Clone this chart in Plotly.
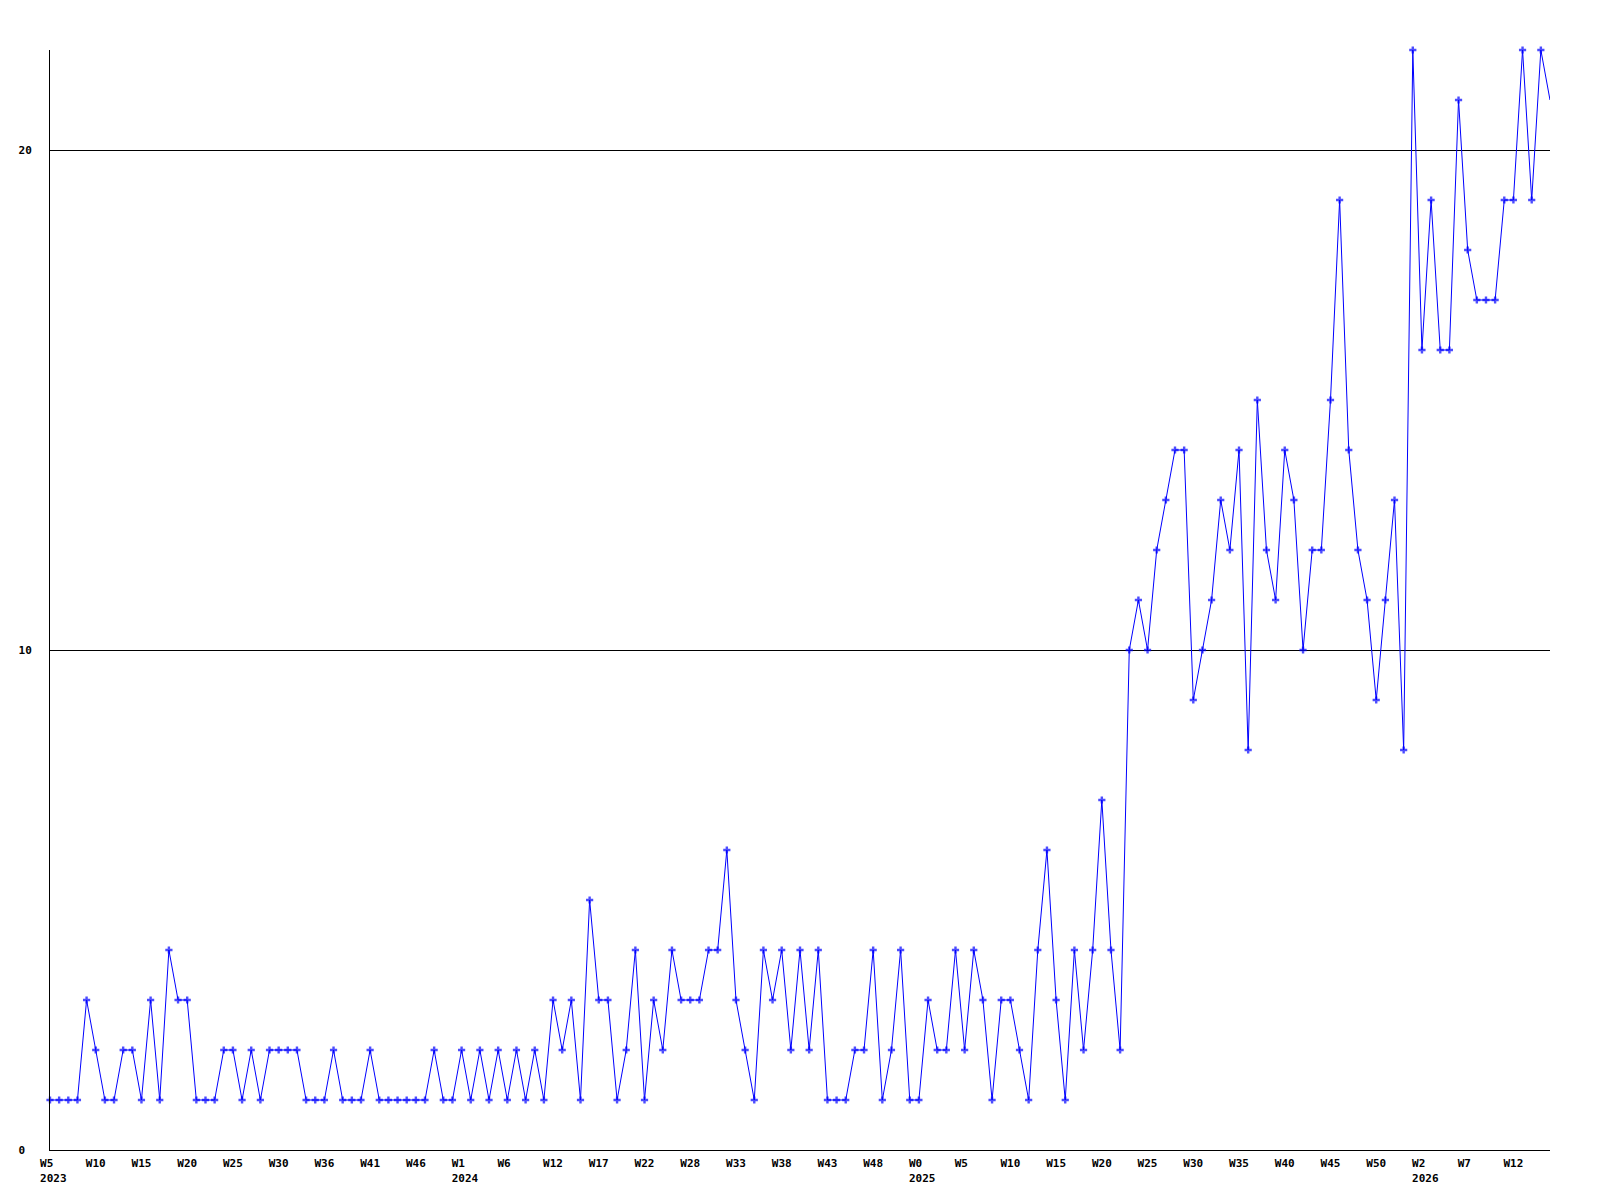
#!/usr/bin/env python
# coding: utf-8

# Contagem semanal - gráfico de linha com marcadores

import plotly.graph_objects as go

# Valores semanais (um ponto por semana, de W5/2023 até W16/2026)
contagens = [
    1, 1, 1, 1, 3, 2, 1, 1, 2, 2,
    1, 3, 1, 4, 3, 3, 1, 1, 1, 2,
    2, 1, 2, 1, 2, 2, 2, 2, 1, 1,
    1, 2, 1, 1, 1, 2, 1, 1, 1, 1,
    1, 1, 2, 1, 1, 2, 1, 2, 1, 2,
    1, 2, 1, 2, 1, 3, 2, 3, 1, 5,
    3, 3, 1, 2, 4, 1, 3, 2, 4, 3,
    3, 3, 4, 4, 6, 3, 2, 1, 4, 3,
    4, 2, 4, 2, 4, 1, 1, 1, 2, 2,
    4, 1, 2, 4, 1, 1, 3, 2, 2, 4,
    2, 4, 3, 1, 3, 3, 2, 1, 4, 6,
    3, 1, 4, 2, 4, 7, 4, 2, 10, 11,
    10, 12, 13, 14, 14, 9, 10, 11, 13, 12,
    14, 8, 15, 12, 11, 14, 13, 10, 12, 12,
    15, 19, 14, 12, 11, 9, 11, 13, 8, 22,
    16, 19, 16, 16, 21, 18, 17, 17, 17, 19,
    19, 22, 19, 22, 21,
]

# Rótulos do eixo x (um a cada 5 pontos)
semanas_rotulo = [
    "W5", "W10", "W15", "W20", "W25", "W30", "W36", "W41", "W46",
    "W1", "W6", "W12", "W17", "W22", "W28", "W33", "W38", "W43", "W48",
    "W0", "W5", "W10", "W15", "W20", "W25", "W30", "W35", "W40", "W45", "W50",
    "W2", "W7", "W12",
]
anos_rotulo = ["2023"] + [""] * 8 + ["2024"] + [""] * 9 + ["2025"] + [""] * 10 + ["2026"] + [""] * 2

# Eixo y
y_ticks = [0, 10, 20]
PASSO_ROTULO = 5

NBSP = "\u00a0"
FONTE = dict(family="DejaVu Sans Mono", size=11, color="black", weight="bold")


def alinhar_esquerda(txt):
    """Simula rótulo alinhado à esquerda (começa 1,5 caractere antes do tick)"""
    n = len(txt)
    pre = 1 if n > 3 else 0
    pos = max(pre + 3 - n, 0)
    return NBSP * pre + txt + NBSP * pos


x = list(range(len(contagens)))
tickvals = x[::PASSO_ROTULO][: len(semanas_rotulo)]
ticktext = []
for s, a in zip(semanas_rotulo, anos_rotulo):
    t = alinhar_esquerda(s)
    if a:
        t += "<br>" + alinhar_esquerda(a)
    ticktext.append(t)

# último ponto sem marcador (fica na borda do gráfico)
tamanhos = [6] * (len(contagens) - 1) + [0]

fig = go.Figure()
fig.add_trace(
    go.Scatter(
        x=x,
        y=contagens,
        mode="lines+markers",
        line=dict(color="#0000ff", width=1),
        marker=dict(symbol="cross", size=tamanhos, color="#0000ff", line=dict(width=0)),
        cliponaxis=False,
        hovertemplate="%{y}<extra></extra>",
    )
)

fig.update_xaxes(
    range=[0, len(contagens) - 1],
    tickmode="array",
    tickvals=tickvals,
    ticktext=ticktext,
    tickangle=0,
    showgrid=False,
    zeroline=False,
    showline=True,
    linecolor="black",
    linewidth=1,
    ticks="",
    ticklabelstandoff=3,
    automargin=False,
    tickfont=FONTE,
)

fig.update_yaxes(
    range=[0, 22],
    tickmode="array",
    tickvals=y_ticks,
    ticktext=[str(v) + NBSP * (2 - len(str(v))) for v in y_ticks],
    showgrid=True,
    gridcolor="black",
    gridwidth=1,
    zeroline=False,
    showline=True,
    linecolor="black",
    linewidth=1,
    ticks="",
    ticklabelstandoff=15,
    automargin=False,
    tickfont=FONTE,
)

# a página tem 8px de margem no body; compensa para a área do gráfico ficar em 50..1550 x 50..1150
fig.update_layout(
    width=1584,
    height=1184,
    margin=dict(l=42, r=42, t=42, b=42),
    paper_bgcolor="white",
    plot_bgcolor="white",
    showlegend=False,
)

fig.write_html("out.html")
